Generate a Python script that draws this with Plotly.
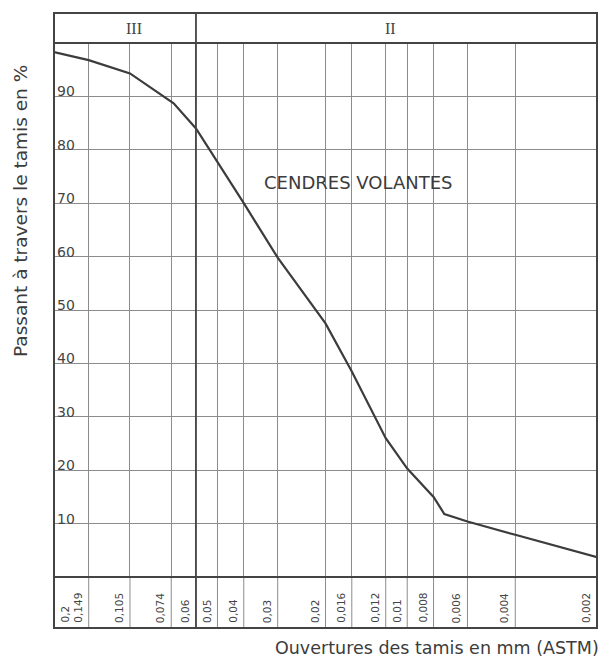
import numpy as np
import plotly.graph_objects as go

# ---- data ----
sieve_sizes = [0.2, 0.149, 0.105, 0.074, 0.06, 0.05, 0.04, 0.03, 0.02, 0.016,
               0.012, 0.01, 0.008, 0.006, 0.004, 0.002]
sieve_labels = ["0,2", "0,149", "0,105", "0,074", "0,06", "0,05", "0,04", "0,03",
                "0,02", "0,016", "0,012", "0,01", "0,008", "0,006", "0,004", "0,002"]
curve_x = [0.2, 0.149, 0.105, 0.0725, 0.06, 0.04, 0.03, 0.02, 0.016, 0.012, 0.01,
           0.008, 0.0073, 0.006, 0.004, 0.002]
curve_y = [98.3, 96.8, 94.3, 88.7, 84.0, 70.0, 59.8, 47.5, 38.5, 26.0, 20.3,
           15.0, 11.8, 10.4, 7.9, 3.7]
y_ticks = [10, 20, 30, 40, 50, 60, 70, 80, 90]
zone_labels = ["III", "II"]
zone_split = 0.06
curve_label = "CENDRES VOLANTES"
x_title = "Ouvertures des tamis en mm (ASTM)"
y_title = "Passant à travers le tamis en %"

# ---- layout geometry (pixels) ----
W, H = 606, 661
L, R, T, B = 54, 9, 43, 84
ph = H - T - B
pw = W - L - R
hdr_top = 1 + 30 / ph
strip_bot = -51 / ph

FONT = "DejaVu Sans"
GRID = "#8c8c8c"
DARK = "#444444"

fig = go.Figure()
fig.add_trace(go.Scatter(x=curve_x, y=curve_y, mode="lines",
                         line=dict(color="#3c3c3c", width=2.2),
                         hoverinfo="skip", showlegend=False))

shapes = []
annotations = []

# vertical lines through the bottom strip
for s in sieve_sizes[1:-1]:
    shapes.append(dict(type="line", xref="x", yref="paper", x0=s, x1=s,
                       y0=strip_bot, y1=0, line=dict(color=GRID, width=1)))
# zone separator (main + header + strip)
shapes.append(dict(type="line", xref="x", yref="paper", x0=zone_split, x1=zone_split,
                   y0=strip_bot, y1=hdr_top, line=dict(color=DARK, width=1.8)))
# frame
shapes.append(dict(type="rect", xref="paper", yref="paper", x0=0, x1=1,
                   y0=strip_bot, y1=hdr_top, line=dict(color=DARK, width=2)))
for yy in (0, 1):
    shapes.append(dict(type="line", xref="paper", yref="paper", x0=0, x1=1,
                       y0=yy, y1=yy, line=dict(color=DARK, width=2)))

# sieve labels in bottom strip
for i, (s, lab) in enumerate(zip(sieve_sizes, sieve_labels)):
    first = i == 0
    annotations.append(dict(x=np.log10(s), xref="x", y=strip_bot, yref="paper",
                            text=lab, showarrow=False, textangle=-90,
                            xanchor="left" if first else "right", yanchor="bottom",
                            xshift=2 if first else -3, yshift=3,
                            font=dict(family=FONT, size=10.5, color="#444")))

# y tick labels inside the plot
for v in y_ticks:
    annotations.append(dict(x=0, xref="paper", y=v, yref="y", text=str(v),
                            showarrow=False, xanchor="left", yanchor="bottom",
                            xshift=1, yshift=-5,
                            font=dict(family=FONT, size=14, color="#444")))

# zone labels in header
for lab, px in zip(zone_labels, (134, 390)):
    annotations.append(dict(x=(px - L) / pw, xref="paper", y=(1 + hdr_top) / 2, yref="paper",
                            text=lab, showarrow=False, xanchor="center", yanchor="middle",
                            font=dict(family="Liberation Serif", size=16, color="#444")))

# curve label
annotations.append(dict(x=(358 - L) / pw, xref="paper", y=73.8, yref="y",
                        text=curve_label, showarrow=False,
                        xanchor="center", yanchor="middle",
                        font=dict(family=FONT, size=18, color="#3c3c3c")))
# axis titles
annotations.append(dict(x=1, xref="paper", y=-(648 - (H - B)) / ph, yref="paper",
                        text=x_title, showarrow=False, xanchor="right", yanchor="middle",
                        xshift=4,
                        font=dict(family=FONT, size=17.5, color="#3c3c3c")))
annotations.append(dict(x=(20 - L) / pw, xref="paper", y=(H - B - 211) / ph, yref="paper",
                        text=y_title, showarrow=False, textangle=-90,
                        xanchor="center", yanchor="middle",
                        font=dict(family=FONT, size=18.5, color="#3c3c3c")))

fig.update_layout(
    width=W, height=H,
    margin=dict(l=L, r=R, t=T, b=B, pad=0),
    paper_bgcolor="white", plot_bgcolor="white",
    shapes=shapes, annotations=annotations,
    xaxis=dict(type="log", range=[np.log10(sieve_sizes[0]), np.log10(sieve_sizes[-1])],
               tickvals=sieve_sizes, showticklabels=False, ticks="",
               showgrid=True, gridcolor=GRID, gridwidth=1, zeroline=False,
               showline=False),
    yaxis=dict(range=[0, 100], tickvals=y_ticks, showticklabels=False, ticks="",
               showgrid=True, gridcolor=GRID, gridwidth=1, zeroline=False,
               showline=False),
)

fig.write_html("out.html")
